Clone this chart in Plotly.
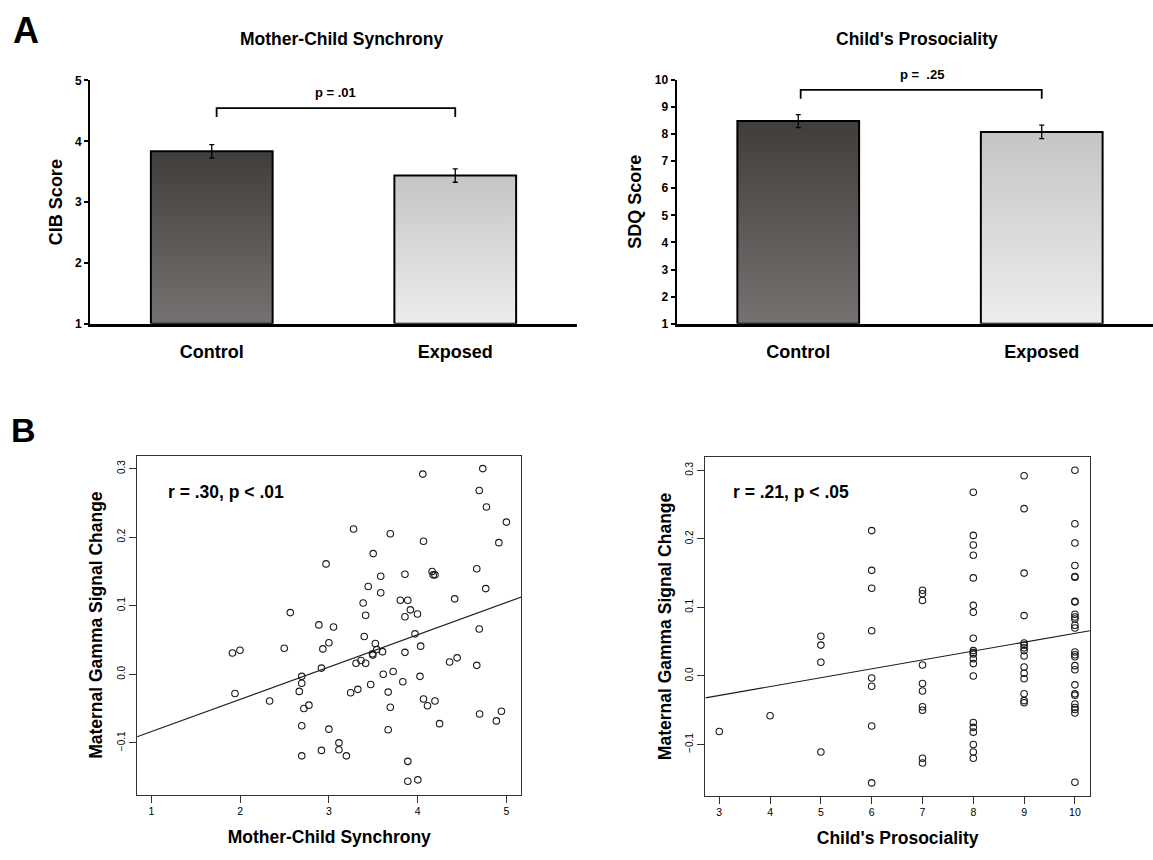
import plotly.graph_objects as go

# ---------------- data ----------------
groups = ["Control", "Exposed"]
cib_mean = [3.835, 3.437]
cib_err = [0.11, 0.11]
sdq_mean = [8.476, 8.077]
sdq_err = [0.24, 0.25]
bar_top_colors = ["#403d3b", "#c6c5c4"]
bar_bottom_colors = ["#757271", "#ededed"]

sync_x = [4.058, 4.734, 4.694, 4.775, 5.0, 4.915, 3.278, 3.692, 4.066, 3.499,
          2.968, 3.857, 3.584, 4.163, 4.175, 4.195, 4.666, 4.767, 3.443, 3.584,
          3.805, 3.889, 4.417, 3.386, 2.565, 3.414, 3.857, 3.918, 3.998, 2.887,
          3.052, 4.694, 3.970, 3.398, 3.0, 3.523, 4.034, 2.497, 2.932, 1.998,
          1.913, 3.539, 3.604, 3.857, 3.491, 3.495, 3.306, 3.362, 3.414, 4.360,
          4.445, 4.666, 2.916, 3.724, 3.612, 4.026, 2.694, 2.694, 3.833, 3.471,
          3.326, 3.245, 2.666, 3.668, 1.942, 2.332, 4.066, 4.195, 2.775, 2.718,
          4.111, 3.692, 4.944, 4.698, 4.887, 4.247, 2.694, 3.0, 3.668, 3.113,
          3.113, 2.916, 3.197, 2.694, 3.889, 3.889, 4.002]
sync_y = [0.292, 0.300, 0.268, 0.244, 0.222, 0.192, 0.212, 0.205, 0.194, 0.176,
          0.161, 0.146, 0.143, 0.150, 0.145, 0.145, 0.154, 0.125, 0.128, 0.119,
          0.108, 0.108, 0.110, 0.104, 0.090, 0.086, 0.084, 0.094, 0.088, 0.072,
          0.069, 0.066, 0.059, 0.055, 0.046, 0.045, 0.041, 0.038, 0.037, 0.035,
          0.031, 0.036, 0.033, 0.032, 0.030, 0.028, 0.016, 0.020, 0.016, 0.018,
          0.024, 0.013, 0.009, 0.004, 0.000, -0.003, -0.003, -0.013, -0.011, -0.015,
          -0.022, -0.027, -0.025, -0.026, -0.028, -0.039, -0.036, -0.039, -0.045, -0.050,
          -0.046, -0.048, -0.054, -0.058, -0.068, -0.072, -0.075, -0.080, -0.081, -0.100,
          -0.110, -0.111, -0.119, -0.119, -0.127, -0.156, -0.154]

pro_x = [3, 4,
         5, 5, 5, 5,
         6, 6, 6, 6, 6, 6, 6, 6,
         7, 7, 7, 7, 7, 7, 7, 7, 7, 7,
         8, 8, 8, 8, 8, 8, 8, 8, 8, 8, 8, 8, 8, 8, 8, 8, 8, 8, 8, 8,
         9, 9, 9, 9, 9, 9, 9, 9, 9, 9, 9, 9, 9, 9, 9,
         10, 10, 10, 10, 10, 10, 10, 10, 10, 10, 10, 10, 10, 10, 10, 10, 10, 10, 10,
         10, 10, 10, 10, 10, 10, 10]
pro_y = [-0.081, -0.058,
         0.058, 0.045, 0.020, -0.111,
         0.212, 0.154, 0.128, 0.066, -0.003, -0.015, -0.073, -0.156,
         0.125, 0.120, 0.110, 0.016, -0.011, -0.022, -0.045, -0.050, -0.120, -0.127,
         0.268, 0.205, 0.191, 0.176, 0.143, 0.103, 0.093, 0.055, 0.037, 0.034,
         0.032, 0.025, 0.018, 0.000, -0.068, -0.075, -0.082, -0.100, -0.111, -0.120,
         0.292, 0.244, 0.150, 0.088, 0.048, 0.045, 0.041, 0.037, 0.029, 0.013,
         0.004, -0.004, -0.026, -0.036, -0.039,
         0.300, 0.222, 0.194, 0.161, 0.145, 0.144, 0.109, 0.108, 0.090, 0.086,
         0.083, 0.074, 0.070, 0.035, 0.031, 0.028, 0.015, 0.009, -0.013, -0.026,
         -0.028, -0.041, -0.046, -0.049, -0.054, -0.155]

# regression lines: intercept, slope
sync_fit = (-0.1308, 0.0471)
pro_fit = (-0.0673, 0.01295)

# ---------------- layout helpers ----------------
W, H = 1153, 860
FONT = "Arial, Liberation Sans, Helvetica, sans-serif"


def px(x):
    return x / W


def py(y):
    return 1 - y / H


fig = go.Figure()

sync_xr = [0.839, 5.169]
pro_xr = [2.727, 10.295]
sync_yr = [-0.1756, 0.319]
pro_yr = [-0.1746, 0.319]

# ---------------- bar charts ----------------
for k, (means, errs, xa, ya) in enumerate([(cib_mean, cib_err, "x", "y"),
                                            (sdq_mean, sdq_err, "x2", "y2")]):
    for i, v in enumerate(means):
        xs = [i - 0.25, i - 0.25, i + 0.25, i + 0.25, i - 0.25]
        ys = [1, v, v, 1, 1]
        fig.add_trace(go.Scatter(
            x=xs, y=ys, mode="lines", fill="toself",
            line=dict(color="black", width=2),
            fillgradient=dict(type="vertical",
                              colorscale=[[0, bar_bottom_colors[i]], [1, bar_top_colors[i]]]),
            xaxis=xa, yaxis=ya, showlegend=False, hoverinfo="skip"))
    fig.add_trace(go.Scatter(
        x=[0, 1], y=means, mode="markers", marker=dict(size=0.1, color="rgba(0,0,0,0)"),
        error_y=dict(type="data", array=errs, color="black", thickness=1.3, width=2.5),
        xaxis=xa, yaxis=ya, showlegend=False))

# ---------------- scatter plots ----------------
for xs, ys, fit, xr, xa, ya in [(sync_x, sync_y, sync_fit, sync_xr, "x3", "y3"),
                                (pro_x, pro_y, pro_fit, pro_xr, "x4", "y4")]:
    fig.add_trace(go.Scatter(
        x=xs, y=ys, mode="markers",
        marker=dict(symbol="circle-open", size=6.5, color="#1a1a1a", line=dict(width=1.1)),
        xaxis=xa, yaxis=ya, showlegend=False))
    fig.add_trace(go.Scatter(
        x=xr, y=[fit[0] + fit[1] * xr[0], fit[0] + fit[1] * xr[1]], mode="lines",
        line=dict(color="#1a1a1a", width=1.1),
        xaxis=xa, yaxis=ya, showlegend=False))

bar_x_common = dict(showline=True, linecolor="black", linewidth=2.5, ticks="",
                    showgrid=False, zeroline=False, tickvals=[0, 1], ticktext=groups,
                    tickfont=dict(family=FONT, size=18, color="black", weight="bold"),
                    ticklabelstandoff=10, fixedrange=True)
bar_y_common = dict(showline=True, linecolor="black", linewidth=2, ticks="outside",
                    ticklen=4, tickwidth=2, tickcolor="black", showgrid=False,
                    zeroline=False, dtick=1,
                    tickfont=dict(family=FONT, size=12, color="black", weight="bold"),
                    title_font=dict(family=FONT, size=18, color="black", weight="bold"))

sc_x_common = dict(showline=True, mirror=True, linecolor="#333", linewidth=1.2,
                   ticks="outside", ticklen=7, tickwidth=1, tickcolor="#333",
                   showgrid=False, zeroline=False, dtick=1,
                   tickfont=dict(family=FONT, size=10.5, color="black"),
                   title_font=dict(family=FONT, size=17.5, color="black", weight="bold"))
sc_y_common = dict(showline=True, mirror=True, linecolor="#333", linewidth=1.2,
                   ticks="outside", ticklen=7, tickwidth=1, tickcolor="#333",
                   showgrid=False, zeroline=False, tickvals=[-0.1, 0, 0.1, 0.2, 0.3],
                   tickformat=".1f", tickangle=-90,
                   tickfont=dict(family=FONT, size=10, color="black"),
                   title_font=dict(family=FONT, size=17.5, color="black", weight="bold"))

fig.update_layout(
    width=W, height=H, margin=dict(l=0, r=0, t=0, b=0),
    paper_bgcolor="white", plot_bgcolor="white", showlegend=False,
    font=dict(family=FONT, color="black"),
    xaxis=dict(domain=[px(90), px(577)], range=[-0.5, 1.5], anchor="y", **bar_x_common),
    yaxis=dict(domain=[py(322), py(74.7)], range=[1, 5], anchor="x",
               title=dict(text="CIB Score", standoff=8), **bar_y_common),
    xaxis2=dict(domain=[px(676.5), 1.0], range=[-0.5, 1.457], anchor="y2", **bar_x_common),
    yaxis2=dict(domain=[py(322), py(74)], range=[1, 10], anchor="x2",
                title=dict(text="SDQ Score", standoff=8), **bar_y_common),
    xaxis3=dict(domain=[px(137.1), px(521.4)], range=sync_xr, anchor="y3",
                title=dict(text="Mother-Child Synchrony", standoff=14), **sc_x_common),
    yaxis3=dict(domain=[py(800.7), py(456)], range=sync_yr, anchor="x3",
                title=dict(text="Maternal Gamma Signal Change", standoff=8), **sc_y_common),
    xaxis4=dict(domain=[px(705.4), px(1089.9)], range=pro_xr, anchor="y4",
                title=dict(text="Child's Prosociality", standoff=14), **sc_x_common),
    yaxis4=dict(domain=[py(801.7), py(457.7)], range=pro_yr, anchor="x4",
                title=dict(text="Maternal Gamma Signal Change", standoff=8), **sc_y_common),
)

# significance brackets
def bracket(xa, ya, x0, x1, ytop, ybot):
    fig.add_shape(type="path", xref=xa, yref=ya,
                  path=f"M {x0},{ybot} L {x0},{ytop} L {x1},{ytop} L {x1},{ybot}",
                  line=dict(color="black", width=1.8))


bracket("x", "y", 0.02, 1.0, 4.547, 4.40)
bracket("x2", "y2", 0.01, 1.0, 9.626, 9.30)

bold = dict(family=FONT, color="black", weight="bold")
ann = [
    dict(text="A", x=px(11), y=py(23.5), xanchor="left", yanchor="middle", font=dict(size=36, **bold)),
    dict(text="B", x=px(9), y=py(429.5), xanchor="left", yanchor="middle", font=dict(size=34, **bold)),
    dict(text="Mother-Child Synchrony", x=px(341), y=py(33), xanchor="center", yanchor="middle",
         font=dict(size=17.5, **bold)),
    dict(text="Child's Prosociality", x=px(917), y=py(33), xanchor="center", yanchor="middle",
         font=dict(size=17.5, **bold)),
    dict(text="p = .01", x=px(335.7), y=py(86.7), xanchor="center", yanchor="middle",
         font=dict(size=13, **bold)),
    dict(text="p =  .25", x=px(921.7), y=py(69), xanchor="center", yanchor="middle",
         font=dict(size=13, **bold)),
    dict(text="r = .30, p < .01", x=px(166), y=py(493), xanchor="left", yanchor="middle",
         font=dict(size=17.5, **bold)),
    dict(text="r = .21, p < .05", x=px(730.6), y=py(493), xanchor="left", yanchor="middle",
         font=dict(size=17.5, **bold)),
]
for a in ann:
    fig.add_annotation(xref="paper", yref="paper", showarrow=False, **a)

fig.write_html("out.html", config={"displayModeBar": False},
               post_script="document.body.style.margin='0';")
